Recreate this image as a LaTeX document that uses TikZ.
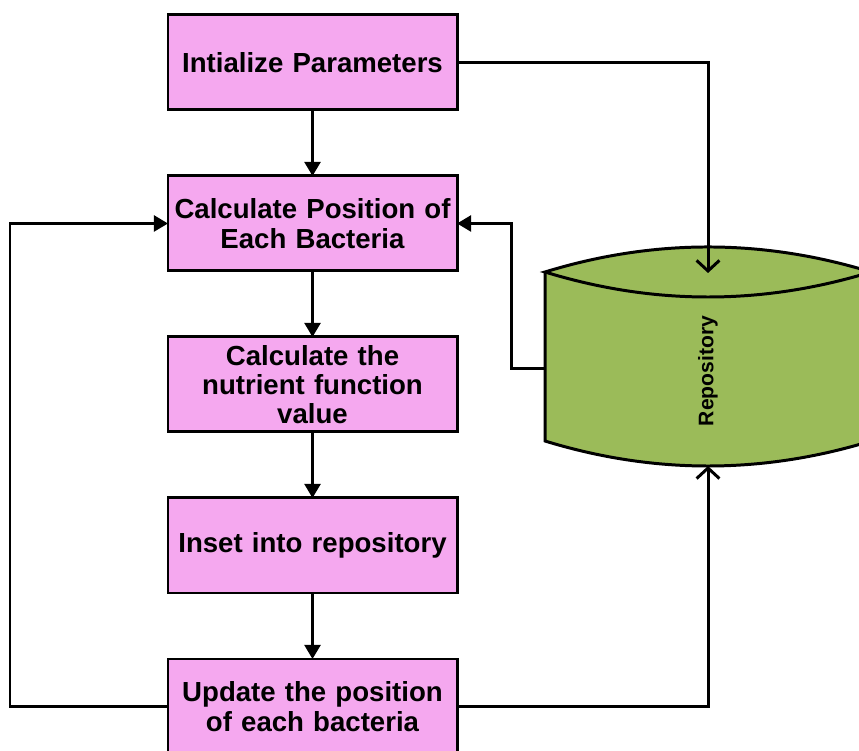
\documentclass[tikz,border=0pt]{standalone}
\usepackage{fontspec}
\setmainfont{Liberation Sans}
\usepackage{tikz}
\usetikzlibrary{positioning, arrows.meta}

\definecolor{boxpink}{HTML}{F5A8EF}
\definecolor{repogreen}{HTML}{9BBB59}

\tikzset{
	stepbox/.style={draw, fill=boxpink, line width=1.7pt, outer sep=0pt, inner xsep=0pt,
		minimum width=5.78cm, minimum height=1.9cm, text width=5.78cm, align=center,
		font=\bfseries\fontsize{15.7}{16.7}\selectfont},
	flow/.style={line width=1.7pt, -{Triangle[length=8pt, width=9pt]}},
	store/.style={line width=1.7pt, -{Straight Barb[length=6pt, width=13pt, line width=1.7pt]}}
}

\begin{document}
\begin{tikzpicture}
		\useasboundingbox (0,0) rectangle (17.18,15.02);
		\clip (0,0) rectangle (17.18,15.02);
		
		\node[stepbox] (init) at (6.25,13.77) {Intialize Parameters};
		\node[stepbox, below=1.32cm of init] (calcpos) {Calculate Position of\\Each Bacteria};
		\node[stepbox, below=1.32cm of calcpos] (nutrient) {Calculate the\\nutrient function\\value};
		\node[stepbox, below=1.32cm of nutrient] (inset) {Inset into repository};
		\node[stepbox, below=1.32cm of inset] (update) {Update the position\\of each bacteria};
		
		% repository drum
		\fill[repogreen] (10.9,9.58) .. controls (13.073,10.247) and (15.247,10.247) .. (17.42,9.58)
			-- (17.42,6.2) .. controls (15.247,5.533) and (13.073,5.533) .. (10.9,6.2) -- cycle;
		\draw[line width=1.7pt] (10.9,9.58) .. controls (13.073,10.247) and (15.247,10.247) .. (17.42,9.58)
			.. controls (15.247,8.913) and (13.073,8.913) .. (10.9,9.58) -- cycle;
		\draw[line width=1.7pt] (10.9,9.58) -- (10.9,6.2) .. controls (13.073,5.533) and (15.247,5.533) .. (17.42,6.2);
		\node[rotate=90, font=\bfseries\fontsize{12}{14}\selectfont] (repo) at (14.16,7.6) {Repository};
		\coordinate (repotop) at (14.16,9.56);
		\coordinate (repobot) at (14.16,5.7);
		\coordinate (repoleft) at (10.9,7.64);
		
		\draw[flow] (init) -- (calcpos);
		\draw[flow] (calcpos) -- (nutrient);
		\draw[flow] (nutrient) -- (inset);
		\draw[flow] (inset) -- (update);
		
		\draw[store] (init.east) -| (repotop);
		\draw[store] (update.east) -| (repobot);
		\draw[flow] (repoleft) -- ++(-0.68,0) |- (calcpos.east);
		\draw[flow] (update.west) -- ++(-3.16,0) |- (calcpos.west);
	\end{tikzpicture}
\end{document}
